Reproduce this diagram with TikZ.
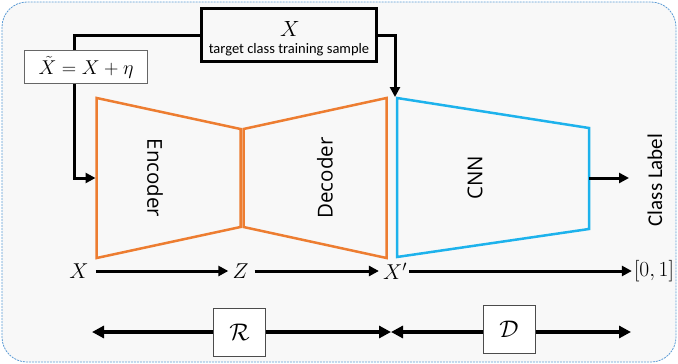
\RequirePackage{fix-cm}
\documentclass[tikz,border=0pt]{standalone}
\usepackage{fontspec}
\setsansfont{Open Sans}
\newfontfamily\carl{Carlito}
\usetikzlibrary{arrows.meta}
\definecolor{encor}{HTML}{ED7D31}
\definecolor{cnnblue}{HTML}{1DB2EC}
\definecolor{framebl}{HTML}{5B9BD5}
\definecolor{bgg}{HTML}{F8F8F8}
\begin{document}
\begin{tikzpicture}[x=1pt,y=-1pt,
  conn/.style={line width=3pt, -{Triangle[length=10pt,width=10pt]}},
  dconn/.style={line width=3.6pt, {Triangle[length=12pt,width=12pt]}-{Triangle[length=12pt,width=12pt]}},
  trap/.style={line width=2.5pt, line join=miter},
  lbl/.style={font=\sffamily\fontsize{20.5}{22}\selectfont},
  mth/.style={font=\fontsize{21.5}{23}\selectfont, inner sep=0pt},
  letterbox/.style={draw=black!70, fill=white, line width=0.9pt, minimum width=52pt, minimum height=48pt, inner sep=0pt, font=\fontsize{24}{26}\selectfont}
]
\useasboundingbox (0,0) rectangle (678,364);
\draw[framebl, dash pattern=on 2pt off 1pt, line width=0.8pt, fill=bgg, rounded corners=25pt] (2,2) rectangle (676,362);

% top box
\node[draw, line width=3pt, minimum width=175pt, minimum height=53pt, inner sep=0pt] (tgt) at (289,35) {};
\node[font=\fontsize{22}{24}\selectfont, inner sep=0pt] (tx) at (290,29) {$X$};
\node[font=\carl\fontsize{14.5}{16}\selectfont, inner sep=0pt] (tt) at (289,50) {target class training sample};

% encoder / decoder / cnn
\draw[trap, encor] (96.7,98) -- (240.5,129) -- (240.5,227) -- (96.7,258) -- cycle;
\node[lbl, rotate=-90] (enc) at (155,178) {Encoder};
\draw[trap, encor] (243.5,129) -- (386.5,98) -- (386.5,258) -- (243.5,227) -- cycle;
\node[lbl, rotate=90] (dec) at (325,178) {Decoder};
\draw[trap, cnnblue] (397,98) -- (589,128) -- (589,229) -- (397,257) -- cycle;
\node[lbl, rotate=90] (cnn) at (475,178) {CNN};

\coordinate (encW) at (95.5,178);
\coordinate (bendL) at (74,178);
\coordinate (cnnTL) at (395,97);
\coordinate (cnnE) at (589,178);
\coordinate (clsW) at (629,178);

\draw[conn] (tgt.west) -| (bendL) -- (encW);
\draw[conn] (tgt.east) -| (cnnTL);

\node[draw=black!60, fill=white, line width=1pt, minimum width=123pt, minimum height=33pt, inner sep=0pt, font=\fontsize{20}{22}\selectfont] (xt) at (86,67) {$\tilde{X}=X+\eta$};

\node[rotate=90, font=\carl\fontsize{21}{24}\selectfont] (cls) at (655,180) {Class Label};
\draw[conn] (cnnE) -- (clsW);

% bottom row
\node[mth] (bx) at (79,271) {$X$};
\node[mth] (bz) at (240.5,271) {$Z$};
\node[mth] (bxp) at (395,271) {$X'$};
\node[mth] (b01) at (654,271) {$[0,1]$};
\draw[conn, shorten <=7pt, shorten >=4pt] (bx) -- (bz);
\draw[conn, shorten <=6pt, shorten >=4pt] (bz) -- (bxp);
\draw[conn, shorten <=2pt, shorten >=2pt] (bxp) -- (b01);

\coordinate (dl) at (92,332);
\coordinate (dm) at (391,332);
\coordinate (dr) at (631,332);
\draw[dconn] (dl) -- (dm);
\draw[dconn] (dm) -- (dr);
\node[letterbox] (rbox) at (239.5,332.5) {$\mathcal{R}$};
\node[letterbox] (dbox) at (509,329.5) {$\mathcal{D}$};
\end{tikzpicture}
\end{document}
